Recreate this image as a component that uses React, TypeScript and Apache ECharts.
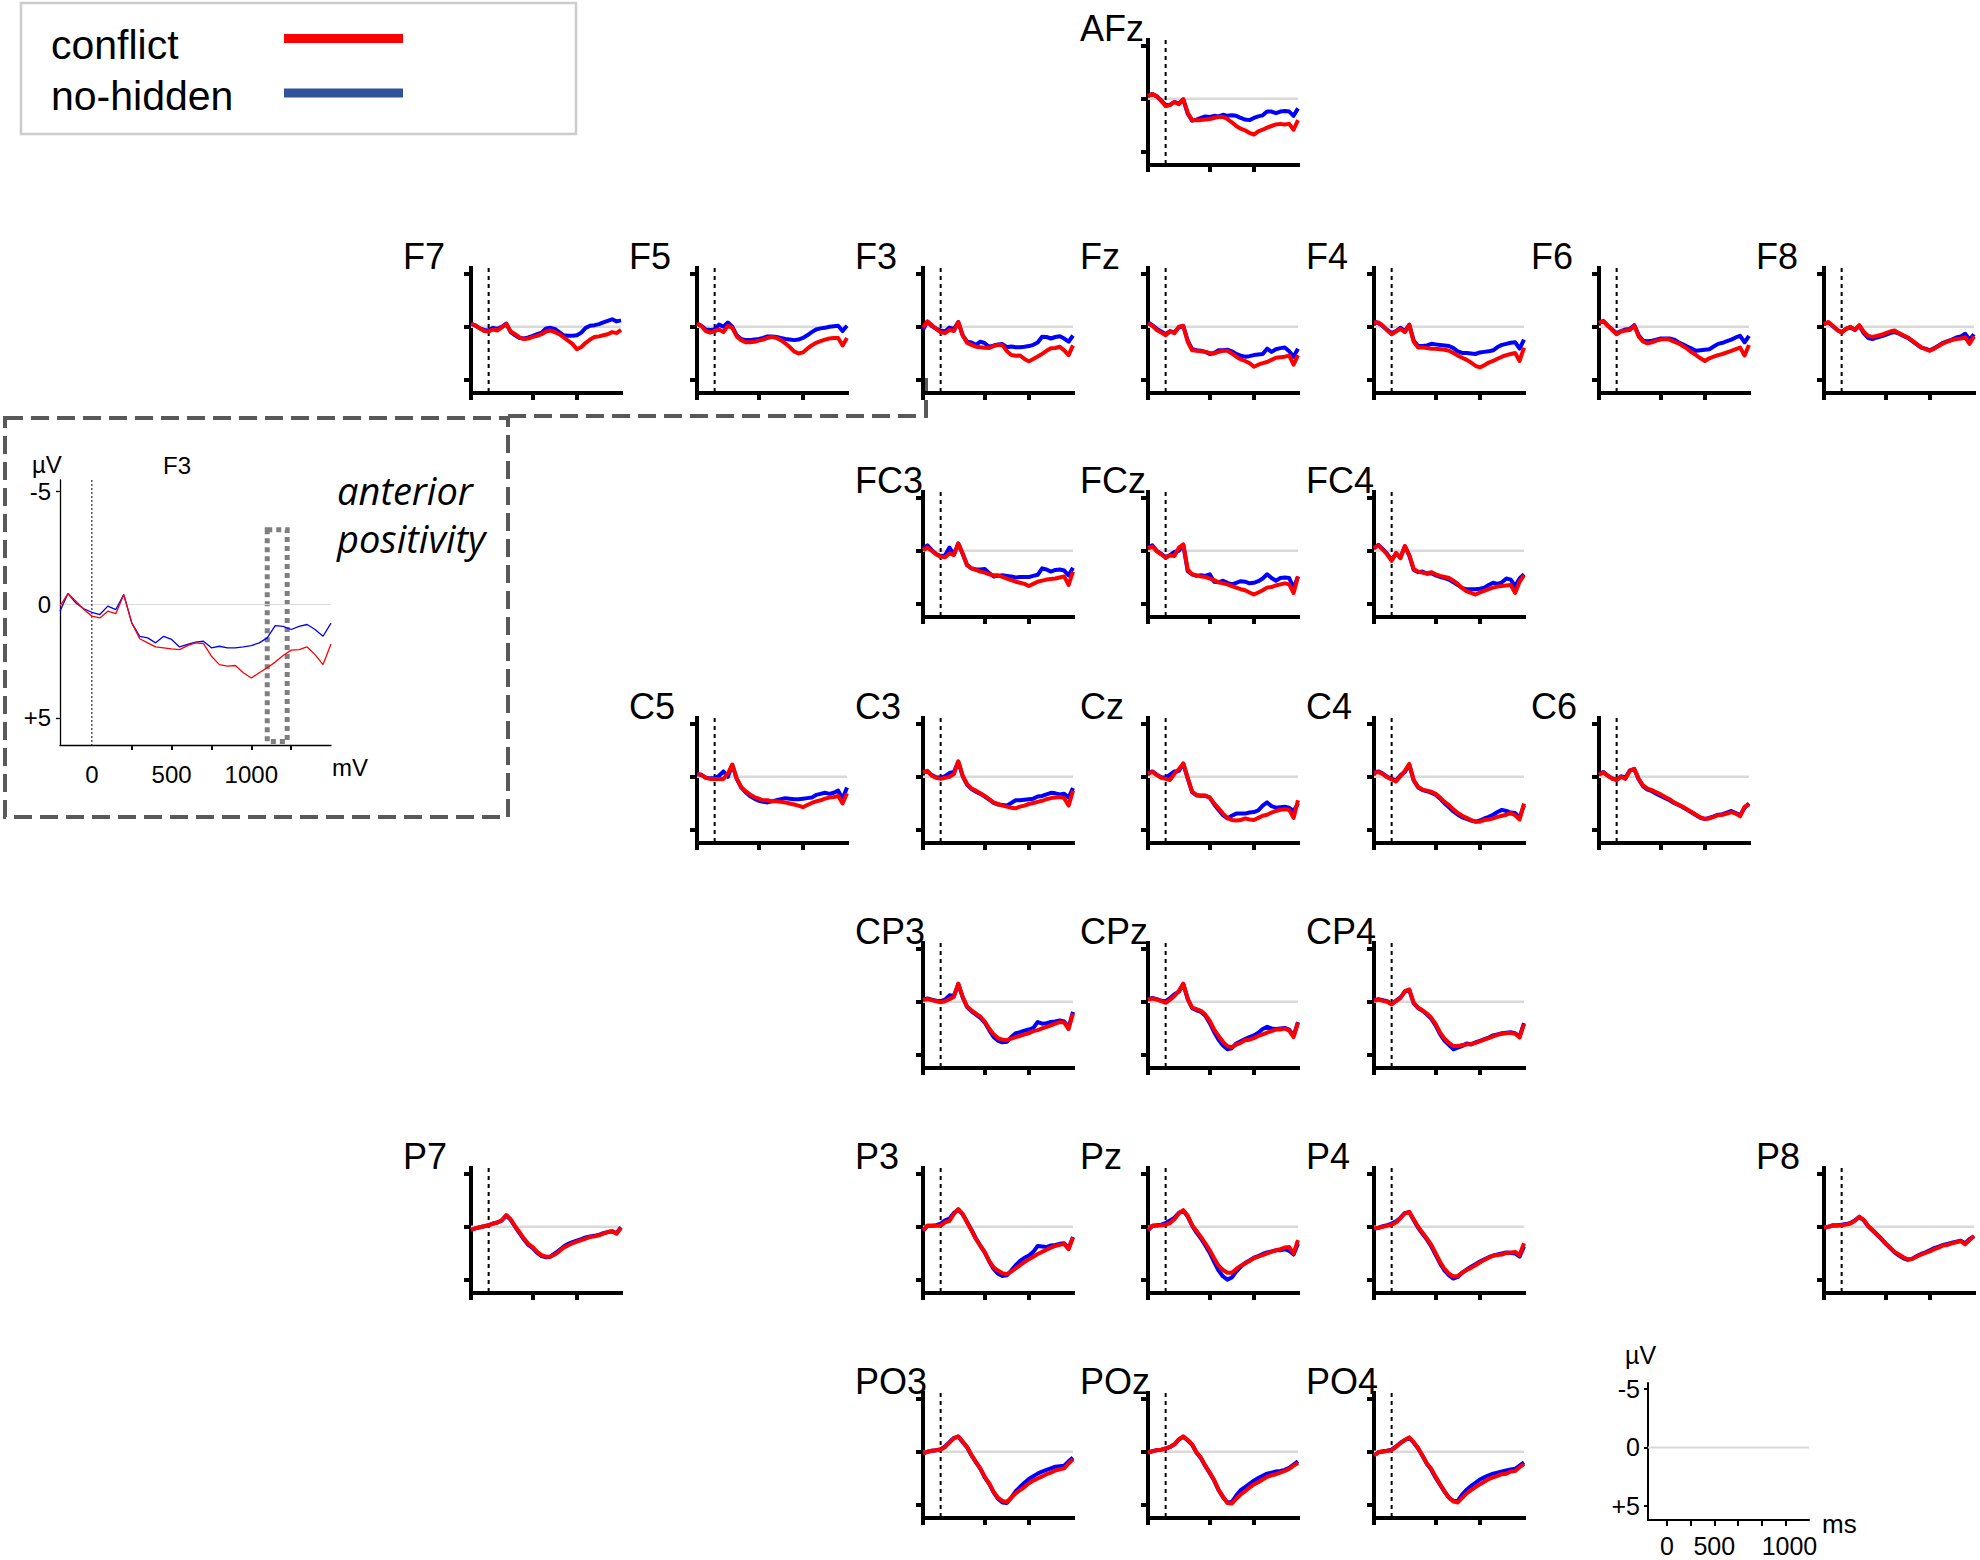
import React, { useEffect, useRef } from 'react';
import * as echarts from 'echarts';

// ---------- time base (ms) ----------
const TIMES = [-200, -150, -100, -50, 0, 50, 100, 150, 200, 250, 300, 350, 400, 450, 500, 550, 600, 650, 700, 750, 800, 850, 900, 950, 1000, 1050, 1100, 1150, 1200, 1250, 1300, 1350, 1400, 1450, 1500];

// ---------- ERP amplitudes (µV, negative up) ----------
const AFz_conflict = [-0.25, -0.45, -0.25, 0.2, 0.7, 0.6, 0.3, 0.5, 0.05, 1.3, 2.0, 2.0, 2.0, 1.95, 1.9, 1.8, 1.7, 1.7, 1.9, 2.2, 2.55, 2.8, 2.95, 3.2, 3.35, 3.05, 2.9, 2.7, 2.55, 2.4, 2.35, 2.4, 2.35, 2.9, 2.0];
const AFz_noHidden = [-0.3, -0.45, -0.2, 0.15, 0.6, 0.55, 0.3, 0.45, 0.05, 1.4, 2.05, 1.95, 1.8, 1.65, 1.7, 1.6, 1.65, 1.5, 1.6, 1.55, 1.6, 1.8, 1.95, 2.0, 1.8, 1.65, 1.55, 1.2, 1.2, 1.35, 1.2, 1.15, 1.2, 1.6, 0.9];

const F7_conflict = [-0.25, -0.15, 0.15, 0.4, 0.45, 0.25, 0.35, 0.05, -0.25, 0.45, 0.7, 1.0, 1.15, 1.1, 0.95, 0.85, 0.7, 0.45, 0.35, 0.5, 0.7, 1.0, 1.3, 1.6, 2.1, 1.9, 1.5, 1.2, 0.95, 0.9, 0.8, 0.7, 0.5, 0.6, 0.3];
const F7_noHidden = [-0.3, -0.1, 0.15, 0.3, 0.35, 0.1, 0.2, 0.0, -0.3, 0.5, 0.8, 1.05, 1.1, 1.0, 0.85, 0.7, 0.55, 0.15, 0.1, 0.2, 0.5, 0.8, 0.85, 0.85, 0.8, 0.55, 0.1, -0.1, -0.15, -0.25, -0.4, -0.55, -0.7, -0.5, -0.6];

const F5_conflict = [-0.3, -0.05, 0.4, 0.55, 0.4, 0.25, 0.5, -0.1, 0.1, 0.9, 1.25, 1.45, 1.45, 1.4, 1.3, 1.2, 1.05, 0.95, 1.05, 1.25, 1.55, 1.9, 2.3, 2.5, 2.4, 2.05, 1.75, 1.5, 1.35, 1.2, 1.1, 1.05, 1.05, 1.75, 1.05];
const F5_noHidden = [-0.3, -0.1, 0.25, 0.3, 0.25, -0.2, 0.0, -0.4, 0.0, 0.8, 1.15, 1.25, 1.25, 1.2, 1.15, 1.05, 0.9, 0.9, 0.95, 1.05, 1.15, 1.2, 1.25, 1.2, 1.05, 0.8, 0.5, 0.25, 0.15, 0.1, 0.0, -0.05, -0.1, 0.4, -0.1];

const F3_conflict = [0.07, -0.49, -0.15, 0.22, 0.51, 0.59, 0.29, 0.4, -0.44, 0.81, 1.51, 1.69, 1.87, 1.91, 1.96, 1.99, 1.81, 1.69, 1.72, 2.28, 2.65, 2.72, 2.69, 3.01, 3.24, 3.01, 2.79, 2.54, 2.25, 2.01, 1.99, 1.87, 2.21, 2.65, 1.74];
const F3_noHidden = [0.29, -0.49, -0.07, 0.19, 0.34, 0.44, 0.07, 0.22, -0.44, 0.81, 1.4, 1.47, 1.69, 1.4, 1.54, 1.87, 1.76, 1.66, 1.62, 1.91, 1.84, 1.91, 1.91, 1.87, 1.81, 1.69, 1.47, 0.93, 0.96, 1.1, 0.96, 0.88, 1.1, 1.4, 0.82];

const Fz_conflict = [-0.3, -0.1, 0.3, 0.55, 0.8, 0.45, 0.6, 0.0, -0.1, 1.4, 2.2, 2.25, 2.3, 2.35, 2.45, 2.5, 2.35, 2.25, 2.25, 2.5, 2.8, 3.05, 3.2, 3.4, 3.75, 3.55, 3.4, 3.3, 3.1, 2.9, 2.85, 2.8, 2.7, 3.55, 2.65];
const Fz_noHidden = [-0.4, -0.15, 0.2, 0.45, 0.7, 0.4, 0.55, 0.05, -0.05, 1.3, 2.1, 2.2, 2.25, 2.35, 2.55, 2.45, 2.2, 2.2, 2.15, 2.3, 2.55, 2.7, 2.8, 2.75, 2.65, 2.6, 2.55, 2.05, 2.35, 2.1, 2.0, 1.95, 2.3, 2.8, 2.05];

const F4_conflict = [-0.4, -0.4, -0.1, 0.35, 0.7, 0.45, 0.2, 0.5, -0.15, 1.4, 1.95, 1.95, 2.0, 2.05, 2.05, 2.1, 2.15, 2.25, 2.45, 2.7, 2.9, 3.1, 3.35, 3.65, 3.8, 3.6, 3.35, 3.2, 3.0, 2.8, 2.65, 2.55, 2.45, 3.2, 1.95];
const F4_noHidden = [-0.5, -0.35, -0.05, 0.3, 0.6, 0.4, 0.1, 0.4, -0.2, 1.3, 1.8, 1.8, 1.75, 1.6, 1.65, 1.7, 1.75, 1.8, 2.0, 2.3, 2.45, 2.45, 2.5, 2.55, 2.4, 2.35, 2.3, 2.2, 1.9, 1.7, 1.6, 1.5, 1.45, 2.05, 1.2];

const F6_conflict = [-0.35, -0.55, -0.1, 0.3, 0.7, 0.45, 0.35, 0.3, -0.1, 0.9, 1.4, 1.55, 1.45, 1.3, 1.2, 1.15, 1.2, 1.4, 1.55, 1.8, 2.05, 2.4, 2.65, 2.95, 3.2, 2.95, 2.8, 2.65, 2.55, 2.4, 2.25, 2.1, 1.95, 2.7, 1.7];
const F6_noHidden = [-0.4, -0.5, -0.1, 0.25, 0.6, 0.4, 0.25, 0.2, -0.15, 0.8, 1.3, 1.35, 1.3, 1.2, 1.1, 1.1, 1.1, 1.2, 1.45, 1.65, 1.85, 2.05, 2.25, 2.2, 2.15, 2.1, 1.85, 1.6, 1.5, 1.35, 1.2, 1.0, 0.85, 1.45, 0.85];

const F8_conflict = [-0.25, -0.45, -0.1, 0.3, 0.55, 0.2, 0.0, 0.3, -0.15, 0.45, 0.85, 0.95, 0.85, 0.75, 0.6, 0.45, 0.35, 0.6, 0.8, 1.0, 1.3, 1.6, 1.9, 2.1, 2.25, 2.05, 1.8, 1.55, 1.4, 1.25, 1.15, 1.1, 1.0, 1.6, 0.9];
const F8_noHidden = [-0.3, -0.4, -0.05, 0.3, 0.5, 0.2, 0.05, 0.3, -0.1, 0.6, 1.05, 1.15, 1.0, 0.9, 0.75, 0.6, 0.5, 0.65, 0.85, 1.05, 1.35, 1.65, 1.95, 2.05, 2.2, 2.0, 1.75, 1.5, 1.35, 1.2, 1.0, 0.9, 0.65, 1.2, 0.7];

const FC3_conflict = [-0.05, -0.3, 0.0, 0.35, 0.55, 0.6, 0.25, 0.4, -0.7, 0.25, 1.35, 1.65, 1.8, 1.95, 2.05, 2.2, 2.3, 2.3, 2.45, 2.6, 2.75, 2.9, 3.0, 3.1, 3.3, 3.1, 2.9, 2.8, 2.7, 2.65, 2.6, 2.5, 2.4, 3.2, 1.95];
const FC3_noHidden = [-0.2, -0.5, -0.05, 0.3, 0.5, 0.45, -0.3, 0.35, -0.65, 0.3, 1.35, 1.65, 1.75, 1.75, 1.7, 2.1, 2.4, 2.35, 2.3, 2.35, 2.4, 2.5, 2.45, 2.45, 2.45, 2.35, 2.25, 1.65, 1.75, 1.95, 1.8, 1.75, 1.85, 2.3, 1.6];

const FCz_conflict = [-0.2, -0.4, 0.05, 0.35, 0.65, 0.45, 0.5, -0.3, -0.6, 1.75, 2.2, 2.3, 2.4, 2.45, 2.6, 2.75, 2.95, 3.05, 3.15, 3.3, 3.45, 3.6, 3.7, 3.9, 4.1, 3.9, 3.7, 3.45, 3.4, 3.25, 3.15, 3.05, 3.15, 3.95, 2.4];
const FCz_noHidden = [-0.3, -0.5, 0.0, 0.3, 0.6, 0.4, 0.1, 0.0, -0.55, 1.9, 2.2, 2.35, 2.3, 2.35, 2.2, 2.9, 2.95, 2.8, 3.0, 3.15, 3.0, 2.85, 2.9, 3.05, 3.0, 2.85, 2.6, 2.2, 2.55, 2.8, 2.55, 2.5, 2.55, 3.5, 2.4];

const FC4_conflict = [-0.25, -0.5, -0.1, 0.35, 0.95, 0.2, 0.7, -0.45, 0.4, 1.7, 1.95, 2.05, 2.1, 2.0, 2.2, 2.35, 2.45, 2.55, 2.8, 3.1, 3.5, 3.8, 3.95, 4.1, 3.9, 3.75, 3.6, 3.45, 3.35, 3.3, 3.25, 3.2, 3.95, 2.9, 2.3];
const FC4_noHidden = [-0.3, -0.55, -0.15, 0.3, 0.85, 0.25, 0.6, -0.4, 0.45, 1.8, 2.0, 1.95, 2.15, 2.1, 2.3, 2.45, 2.55, 2.7, 2.95, 3.2, 3.5, 3.6, 3.6, 3.6, 3.55, 3.45, 3.2, 3.0, 3.1, 2.95, 2.6, 2.7, 3.3, 2.6, 2.2];

const C5_conflict = [-0.2, -0.2, 0.1, 0.2, 0.2, 0.2, 0.2, -0.3, -1.15, 0.15, 0.95, 1.35, 1.65, 1.9, 2.05, 2.2, 2.2, 2.3, 2.3, 2.35, 2.4, 2.5, 2.6, 2.7, 2.85, 2.65, 2.45, 2.3, 2.2, 2.05, 1.95, 1.9, 1.8, 2.5, 1.55];
const C5_noHidden = [-0.3, -0.15, 0.1, 0.15, 0.15, -0.1, -0.5, 0.0, -1.1, 0.2, 1.0, 1.45, 1.8, 2.05, 2.25, 2.35, 2.4, 2.3, 2.2, 2.1, 2.0, 2.05, 2.1, 2.1, 2.05, 2.0, 1.95, 1.7, 1.6, 1.5, 1.6, 1.5, 1.3, 2.05, 1.0];

const C3_conflict = [-0.4, -0.55, -0.1, 0.1, 0.2, 0.1, 0.0, -0.25, -1.45, -0.1, 0.7, 1.1, 1.3, 1.55, 1.8, 2.1, 2.4, 2.55, 2.7, 2.8, 2.9, 2.95, 2.8, 2.7, 2.55, 2.45, 2.35, 2.25, 2.1, 2.0, 1.95, 1.9, 2.0, 2.7, 1.3];
const C3_noHidden = [-0.45, -0.5, -0.15, 0.05, 0.1, -0.05, -0.35, -0.45, -1.4, -0.05, 0.75, 1.15, 1.4, 1.6, 1.85, 2.15, 2.45, 2.6, 2.65, 2.7, 2.45, 2.2, 2.2, 2.15, 2.1, 2.05, 1.85, 1.8, 1.65, 1.5, 1.55, 1.65, 1.6, 1.95, 1.05];

const Cz_conflict = [-0.3, -0.45, -0.15, 0.1, 0.2, 0.3, -0.3, -0.7, -1.25, 0.1, 1.4, 1.7, 1.8, 1.8, 1.95, 2.5, 2.95, 3.45, 3.85, 4.05, 4.1, 4.05, 3.9, 4.0, 4.05, 3.85, 3.65, 3.55, 3.35, 3.2, 3.1, 3.05, 3.1, 3.85, 2.2];
const Cz_noHidden = [-0.35, -0.5, -0.2, 0.05, 0.1, -0.2, -0.5, -0.55, -1.2, 0.15, 1.45, 1.75, 1.75, 1.75, 1.95, 2.6, 3.1, 3.6, 3.9, 3.65, 3.45, 3.45, 3.45, 3.35, 3.3, 3.15, 2.7, 2.4, 2.75, 2.9, 2.85, 2.8, 2.9, 3.2, 2.5];

const C4_conflict = [-0.35, -0.45, -0.25, 0.05, 0.25, 0.45, -0.05, -0.55, -1.2, 0.3, 0.95, 1.2, 1.3, 1.4, 1.6, 1.95, 2.35, 2.65, 3.05, 3.4, 3.65, 3.85, 4.05, 4.2, 4.2, 4.05, 4.0, 3.9, 3.75, 3.65, 3.55, 3.4, 3.6, 4.0, 2.5];
const C4_noHidden = [-0.4, -0.5, -0.3, 0.0, 0.2, 0.35, -0.15, -0.45, -1.1, 0.35, 1.0, 1.25, 1.35, 1.5, 1.7, 2.05, 2.5, 2.85, 3.25, 3.55, 3.8, 3.95, 4.1, 4.2, 4.1, 3.9, 3.75, 3.55, 3.3, 3.1, 3.2, 3.35, 3.4, 3.8, 2.7];

const C6_conflict = [-0.2, -0.4, -0.1, 0.2, 0.3, 0.0, 0.2, -0.55, -0.75, 0.2, 0.8, 1.1, 1.25, 1.45, 1.65, 1.9, 2.1, 2.4, 2.6, 2.8, 3.05, 3.3, 3.55, 3.8, 3.95, 3.9, 3.75, 3.6, 3.55, 3.45, 3.3, 3.45, 3.7, 2.8, 2.6];
const C6_noHidden = [-0.25, -0.45, -0.1, 0.15, 0.3, -0.05, 0.1, -0.6, -0.7, 0.25, 0.9, 1.2, 1.35, 1.6, 1.8, 2.0, 2.2, 2.45, 2.65, 2.85, 3.1, 3.35, 3.6, 3.85, 3.95, 3.85, 3.7, 3.55, 3.5, 3.35, 3.2, 3.4, 3.6, 2.9, 2.5];

const CP3_conflict = [-0.15, -0.25, -0.15, -0.05, 0.05, -0.05, -0.25, -0.45, -1.7, -0.45, 0.45, 0.8, 1.1, 1.4, 1.85, 2.5, 3.05, 3.4, 3.55, 3.6, 3.45, 3.3, 3.2, 3.05, 2.95, 2.75, 2.65, 2.5, 2.35, 2.2, 2.05, 1.9, 1.95, 2.55, 1.1];
const CP3_noHidden = [-0.2, -0.3, -0.2, -0.1, -0.05, -0.2, -0.6, -0.55, -1.65, -0.4, 0.5, 0.9, 1.2, 1.5, 1.95, 2.65, 3.3, 3.65, 3.8, 3.75, 3.3, 2.95, 2.85, 2.7, 2.6, 2.45, 1.9, 2.05, 2.0, 1.9, 1.85, 1.75, 1.85, 2.4, 0.95];

const CPz_conflict = [-0.2, -0.3, -0.2, -0.05, 0.1, -0.2, -0.55, -1.0, -1.7, -0.3, 0.55, 0.7, 0.85, 1.2, 1.8, 2.6, 3.2, 3.75, 4.15, 4.25, 4.0, 3.85, 3.6, 3.55, 3.4, 3.2, 3.05, 2.9, 2.75, 2.6, 2.6, 2.5, 2.7, 3.3, 1.95];
const CPz_noHidden = [-0.25, -0.35, -0.25, -0.1, -0.05, -0.35, -0.7, -0.95, -1.65, -0.25, 0.6, 0.8, 0.95, 1.3, 2.0, 2.85, 3.55, 4.1, 4.45, 4.35, 3.9, 3.7, 3.5, 3.3, 3.15, 2.9, 2.55, 2.35, 2.5, 2.55, 2.5, 2.45, 2.6, 3.2, 1.9];

const CP4_conflict = [-0.1, -0.2, -0.1, 0.0, 0.25, -0.05, -0.35, -1.0, -1.15, 0.1, 0.55, 0.8, 1.1, 1.5, 2.1, 2.9, 3.45, 3.85, 4.15, 4.15, 4.05, 4.0, 3.95, 3.85, 3.7, 3.55, 3.4, 3.25, 3.1, 3.0, 2.95, 2.9, 3.0, 3.35, 2.1];
const CP4_noHidden = [-0.15, -0.25, -0.15, -0.05, 0.2, -0.1, -0.4, -0.95, -1.1, 0.15, 0.6, 0.85, 1.2, 1.6, 2.25, 3.05, 3.65, 4.05, 4.45, 4.3, 4.15, 3.9, 4.0, 3.8, 3.65, 3.5, 3.35, 3.15, 3.05, 2.95, 2.9, 2.85, 2.95, 3.25, 2.0];

const P7_conflict = [0.3, 0.15, 0.05, -0.05, -0.15, -0.3, -0.4, -0.6, -1.1, -0.7, -0.05, 0.5, 1.1, 1.6, 1.9, 2.35, 2.65, 2.8, 2.8, 2.6, 2.3, 1.95, 1.75, 1.55, 1.4, 1.25, 1.1, 0.95, 0.9, 0.8, 0.65, 0.5, 0.4, 0.65, 0.1];
const P7_noHidden = [0.3, 0.15, 0.05, -0.05, -0.15, -0.3, -0.4, -0.6, -1.05, -0.65, 0.0, 0.6, 1.2, 1.7, 2.0, 2.45, 2.75, 2.85, 2.8, 2.5, 2.2, 1.85, 1.6, 1.45, 1.3, 1.15, 1.0, 0.9, 0.85, 0.75, 0.6, 0.5, 0.45, 0.6, 0.05];

const P3_conflict = [0.35, -0.1, -0.1, -0.1, -0.1, -0.4, -0.55, -1.2, -1.65, -1.2, -0.4, 0.35, 1.15, 1.8, 2.4, 3.2, 3.8, 4.1, 4.35, 4.45, 4.2, 3.9, 3.6, 3.3, 3.05, 2.8, 2.55, 2.35, 2.15, 1.95, 1.8, 1.7, 1.6, 2.1, 1.0];
const P3_noHidden = [0.4, -0.1, -0.1, -0.15, -0.3, -0.6, -0.75, -1.3, -1.6, -1.15, -0.45, 0.3, 1.1, 1.75, 2.4, 3.25, 3.95, 4.4, 4.6, 4.55, 4.1, 3.6, 3.2, 2.9, 2.7, 2.35, 1.8, 1.85, 1.9, 1.75, 1.7, 1.6, 1.55, 2.0, 0.95];

const Pz_conflict = [0.3, -0.1, -0.1, -0.15, -0.2, -0.35, -0.7, -1.25, -1.55, -1.05, -0.15, 0.4, 0.95, 1.55, 2.2, 2.95, 3.65, 4.05, 4.3, 4.3, 3.95, 3.65, 3.45, 3.2, 2.95, 2.8, 2.65, 2.5, 2.35, 2.2, 2.1, 1.95, 1.9, 2.5, 1.25];
const Pz_noHidden = [0.35, -0.1, -0.15, -0.2, -0.35, -0.6, -0.85, -1.3, -1.5, -0.95, -0.1, 0.55, 1.1, 1.75, 2.45, 3.3, 4.1, 4.65, 4.95, 4.75, 4.2, 3.75, 3.4, 3.15, 2.9, 2.75, 2.55, 2.4, 2.3, 2.2, 2.2, 2.1, 2.25, 2.6, 1.6];

const P4_conflict = [0.15, 0.1, 0.0, -0.1, -0.2, -0.4, -0.8, -1.25, -1.4, -0.7, 0.0, 0.55, 1.1, 1.7, 2.5, 3.3, 3.95, 4.4, 4.65, 4.6, 4.3, 4.05, 3.85, 3.6, 3.35, 3.1, 2.9, 2.7, 2.65, 2.6, 2.45, 2.4, 2.35, 2.65, 1.55];
const P4_noHidden = [0.2, 0.1, -0.05, -0.15, -0.3, -0.5, -0.85, -1.3, -1.35, -0.6, 0.1, 0.65, 1.2, 1.85, 2.65, 3.45, 4.1, 4.55, 4.85, 4.7, 4.3, 4.0, 3.75, 3.5, 3.25, 3.05, 2.85, 2.7, 2.6, 2.5, 2.4, 2.45, 2.5, 2.8, 1.85];

const P8_conflict = [0.1, 0.0, -0.1, -0.1, -0.15, -0.2, -0.3, -0.55, -0.95, -0.65, -0.1, 0.3, 0.7, 1.1, 1.55, 1.95, 2.35, 2.6, 2.85, 3.05, 3.0, 2.8, 2.6, 2.45, 2.3, 2.1, 1.95, 1.75, 1.7, 1.55, 1.45, 1.35, 1.65, 1.25, 0.85];
const P8_noHidden = [0.1, 0.0, -0.15, -0.15, -0.2, -0.25, -0.35, -0.6, -0.9, -0.6, -0.05, 0.35, 0.75, 1.15, 1.6, 2.0, 2.4, 2.7, 2.95, 3.1, 3.0, 2.75, 2.55, 2.4, 2.2, 2.0, 1.85, 1.7, 1.6, 1.5, 1.4, 1.3, 1.55, 1.15, 0.9];

const PO3_conflict = [0.15, 0.0, -0.1, -0.15, -0.2, -0.45, -0.85, -1.25, -1.45, -0.95, -0.45, 0.3, 0.95, 1.55, 2.35, 2.95, 3.75, 4.3, 4.6, 4.7, 4.3, 3.9, 3.6, 3.3, 2.95, 2.7, 2.5, 2.3, 2.1, 1.95, 1.75, 1.65, 1.55, 1.1, 0.7];
const PO3_noHidden = [0.15, 0.0, -0.1, -0.15, -0.25, -0.5, -0.9, -1.3, -1.4, -0.9, -0.4, 0.35, 1.0, 1.6, 2.4, 3.0, 3.8, 4.4, 4.75, 4.8, 4.3, 3.7, 3.3, 2.9, 2.55, 2.3, 2.05, 1.85, 1.7, 1.55, 1.4, 1.35, 1.3, 0.9, 0.55];

const POz_conflict = [0.1, -0.05, -0.15, -0.2, -0.3, -0.45, -0.7, -1.15, -1.45, -1.1, -0.7, 0.05, 0.55, 1.3, 1.95, 2.65, 3.55, 4.2, 4.8, 4.85, 4.4, 4.0, 3.7, 3.35, 3.05, 2.85, 2.6, 2.35, 2.2, 2.1, 1.95, 1.8, 1.6, 1.3, 1.05];
const POz_noHidden = [0.1, -0.05, -0.15, -0.2, -0.3, -0.45, -0.7, -1.15, -1.4, -1.05, -0.65, 0.1, 0.6, 1.35, 2.0, 2.7, 3.6, 4.25, 4.75, 4.7, 4.1, 3.6, 3.3, 3.0, 2.7, 2.45, 2.25, 2.05, 1.95, 1.85, 1.8, 1.7, 1.5, 1.2, 0.9];

const PO4_conflict = [0.35, 0.05, 0.0, -0.1, -0.15, -0.45, -0.8, -1.1, -1.35, -0.9, -0.35, 0.35, 1.1, 1.6, 2.35, 3.05, 3.7, 4.3, 4.65, 4.75, 4.3, 3.9, 3.6, 3.3, 3.05, 2.8, 2.55, 2.4, 2.25, 2.1, 2.05, 1.85, 1.8, 1.45, 1.15];
const PO4_noHidden = [0.35, 0.05, -0.05, -0.1, -0.2, -0.5, -0.85, -1.1, -1.3, -0.85, -0.3, 0.4, 1.15, 1.7, 2.45, 3.1, 3.75, 4.3, 4.6, 4.6, 4.0, 3.55, 3.2, 2.9, 2.6, 2.4, 2.2, 2.05, 1.95, 1.85, 1.75, 1.65, 1.6, 1.3, 1.0];

// ---------- ticks / labels ----------
const SMALL_X_TICKS = [-200, 500, 1000];
const SMALL_Y_TICKS = [-5, 0, 5];
const INSET_X_TICKS = [250, 500, 750, 1000, 1250];
const INSET_X_LABELS = [0, 500, 1000];
const INSET_Y_TICKS = [-5, 5];
const SCALE_X_TICKS = [0, 250, 500, 750, 1000, 1250];
const SCALE_X_LABELS = [0, 500, 1000];
const Y_LABELS = [-5, 0, 5];
const HIGHLIGHT_WINDOW = [1100, 1225];
const HIGHLIGHT_AMPL = [-3.3, 6.05];
const LEGEND_NAMES = ['conflict', 'no-hidden'];

// ---------- layout (positions only) ----------
const COLS = [471, 697, 923, 1148, 1374, 1599, 1824];
const ROW_BOTTOMS = [165, 393, 617, 843, 1068, 1293, 1518];

const PANELS = [
  { name: 'AFz', col: 3, row: 0, conflict: AFz_conflict, noHidden: AFz_noHidden },
  { name: 'F7', col: 0, row: 1, conflict: F7_conflict, noHidden: F7_noHidden },
  { name: 'F5', col: 1, row: 1, conflict: F5_conflict, noHidden: F5_noHidden },
  { name: 'F3', col: 2, row: 1, conflict: F3_conflict, noHidden: F3_noHidden },
  { name: 'Fz', col: 3, row: 1, conflict: Fz_conflict, noHidden: Fz_noHidden },
  { name: 'F4', col: 4, row: 1, conflict: F4_conflict, noHidden: F4_noHidden },
  { name: 'F6', col: 5, row: 1, conflict: F6_conflict, noHidden: F6_noHidden },
  { name: 'F8', col: 6, row: 1, conflict: F8_conflict, noHidden: F8_noHidden },
  { name: 'FC3', col: 2, row: 2, conflict: FC3_conflict, noHidden: FC3_noHidden },
  { name: 'FCz', col: 3, row: 2, conflict: FCz_conflict, noHidden: FCz_noHidden },
  { name: 'FC4', col: 4, row: 2, conflict: FC4_conflict, noHidden: FC4_noHidden },
  { name: 'C5', col: 1, row: 3, conflict: C5_conflict, noHidden: C5_noHidden },
  { name: 'C3', col: 2, row: 3, conflict: C3_conflict, noHidden: C3_noHidden },
  { name: 'Cz', col: 3, row: 3, conflict: Cz_conflict, noHidden: Cz_noHidden },
  { name: 'C4', col: 4, row: 3, conflict: C4_conflict, noHidden: C4_noHidden },
  { name: 'C6', col: 5, row: 3, conflict: C6_conflict, noHidden: C6_noHidden },
  { name: 'CP3', col: 2, row: 4, conflict: CP3_conflict, noHidden: CP3_noHidden },
  { name: 'CPz', col: 3, row: 4, conflict: CPz_conflict, noHidden: CPz_noHidden },
  { name: 'CP4', col: 4, row: 4, conflict: CP4_conflict, noHidden: CP4_noHidden },
  { name: 'P7', col: 0, row: 5, conflict: P7_conflict, noHidden: P7_noHidden },
  { name: 'P3', col: 2, row: 5, conflict: P3_conflict, noHidden: P3_noHidden },
  { name: 'Pz', col: 3, row: 5, conflict: Pz_conflict, noHidden: Pz_noHidden },
  { name: 'P4', col: 4, row: 5, conflict: P4_conflict, noHidden: P4_noHidden },
  { name: 'P8', col: 6, row: 5, conflict: P8_conflict, noHidden: P8_noHidden },
  { name: 'PO3', col: 2, row: 6, conflict: PO3_conflict, noHidden: PO3_noHidden },
  { name: 'POz', col: 3, row: 6, conflict: POz_conflict, noHidden: POz_noHidden },
  { name: 'PO4', col: 4, row: 6, conflict: PO4_conflict, noHidden: PO4_noHidden },
];

const W = 1980;
const H = 1560;
const PANEL_W = 150;
const PANEL_H = 125;
const T_MIN = -200;
const T_MAX = 1500;
const Y_MIN = -5.5;
const Y_MAX = 6.2;
const RED = '#ff0000';
const BLUE = '#0000ff';
const LEGEND_BLUE = '#2f5299';
const ZERO_GRAY = '#d9d9d9';
const FONT = '"Liberation Sans", Arial, Helvetica, sans-serif';
const ITALIC_FONT = '"Open Sans", "DejaVu Sans", sans-serif';

const toPairs = (vals: number[]) => TIMES.map((t, i) => [t, vals[i]]);
const signed = (v: number) => (v > 0 ? '+' + v : String(v));
const plain = (v: number) => String(v);

export default function App() {
  const ref = useRef<HTMLDivElement>(null);

  useEffect(() => {
    if (!ref.current) return;
    const chart = echarts.init(ref.current, null, { renderer: 'svg', width: W, height: H });

    const grid: any[] = [];
    const xAxis: any[] = [];
    const yAxis: any[] = [];
    const series: any[] = [];
    const graphic: any[] = [];

    const text = (x: number, y: number, str: string, size: number, extra: any = {}) => ({
      type: 'text',
      x,
      y,
      silent: true,
      style: {
        text: str,
        fill: '#000',
        font: `${extra.italic ? 'italic ' : ''}${size}px ${extra.family || FONT}`,
        textAlign: extra.align || 'left',
        align: extra.align || 'left',
        textVerticalAlign: 'middle',
        verticalAlign: 'middle',
      },
    });

    // ---- small electrode panels ----
    PANELS.forEach((p) => {
      const g = grid.length;
      const left = COLS[p.col];
      const top = ROW_BOTTOMS[p.row] - PANEL_H;
      grid.push({ left, top, width: PANEL_W, height: PANEL_H });
      const axLine = { show: true, onZero: false, lineStyle: { color: '#000', width: 4, cap: 'square' } };
      xAxis.push({
        gridIndex: g, type: 'value', min: T_MIN, max: T_MAX,
        axisLine: axLine,
        axisTick: { show: true, customValues: SMALL_X_TICKS, length: 7, lineStyle: { color: '#000', width: 4 } },
        axisLabel: { show: false }, splitLine: { show: false },
      });
      yAxis.push({
        gridIndex: g, type: 'value', inverse: true, min: Y_MIN, max: Y_MAX,
        axisLine: axLine,
        axisTick: { show: true, customValues: SMALL_Y_TICKS, length: 7, lineStyle: { color: '#000', width: 4 } },
        axisLabel: { show: false }, splitLine: { show: false },
      });
      const common = { type: 'line', xAxisIndex: g, yAxisIndex: g, symbol: 'none', silent: true, animation: false };
      series.push({ ...common, z: 1, data: [[T_MIN, 0], [T_MAX, 0]], lineStyle: { color: ZERO_GRAY, width: 2.5 } });
      series.push({ ...common, z: 2, data: [[0, Y_MIN], [0, Y_MAX]], lineStyle: { color: '#000', width: 2, type: [4, 4] } });
      series.push({ ...common, z: 3, name: LEGEND_NAMES[1], data: toPairs(p.noHidden), lineStyle: { color: BLUE, width: 4, join: 'round' } });
      series.push({ ...common, z: 4, name: LEGEND_NAMES[0], data: toPairs(p.conflict), lineStyle: { color: RED, width: 4, join: 'round' } });
      graphic.push(text(left - 68, top - 12, p.name, 36));
    });

    // ---- inset: enlarged F3 ----
    {
      const g = grid.length;
      grid.push({ left: 60, top: 480, width: 271, height: 265 });
      const ls = { color: '#000', width: 1.3 };
      xAxis.push({
        gridIndex: g, type: 'value', min: T_MIN, max: T_MAX,
        axisLine: { show: true, onZero: false, lineStyle: ls },
        axisTick: { show: true, customValues: INSET_X_TICKS, length: 5, lineStyle: { color: '#000', width: 2 } },
        axisLabel: { show: true, customValues: INSET_X_LABELS, fontSize: 24, fontFamily: FONT, color: '#000', margin: 17, hideOverlap: false, showMinLabel: true, showMaxLabel: true, formatter: plain },
        splitLine: { show: false },
      });
      yAxis.push({
        gridIndex: g, type: 'value', inverse: true, min: Y_MIN, max: Y_MAX,
        axisLine: { show: true, onZero: false, lineStyle: ls },
        axisTick: { show: true, customValues: INSET_Y_TICKS, length: 4, lineStyle: ls },
        axisLabel: { show: true, customValues: Y_LABELS, fontSize: 24, fontFamily: FONT, color: '#000', margin: 9, hideOverlap: false, showMinLabel: true, showMaxLabel: true, formatter: signed },
        splitLine: { show: false },
      });
      const common = { type: 'line', xAxisIndex: g, yAxisIndex: g, symbol: 'none', silent: true, animation: false };
      series.push({ ...common, z: 1, data: [[T_MIN, 0], [T_MAX, 0]], lineStyle: { color: ZERO_GRAY, width: 1 } });
      series.push({ ...common, z: 2, data: [[0, Y_MIN], [0, Y_MAX]], lineStyle: { color: '#000', width: 1, type: [2, 2] } });
      series.push({ ...common, z: 3, data: toPairs(F3_noHidden), lineStyle: { color: BLUE, width: 1.3 } });
      series.push({
        ...common, z: 4, data: toPairs(F3_conflict), lineStyle: { color: RED, width: 1.3 },
        markArea: {
          silent: true,
          itemStyle: { color: 'rgba(0,0,0,0)', borderColor: '#7f7f7f', borderWidth: 5, borderType: [5, 4] },
          data: [[{ xAxis: HIGHLIGHT_WINDOW[0], yAxis: HIGHLIGHT_AMPL[0] }, { xAxis: HIGHLIGHT_WINDOW[1], yAxis: HIGHLIGHT_AMPL[1] }]],
        },
      });
      graphic.push(text(32, 464, 'µV', 24));
      graphic.push(text(163, 465, 'F3', 24));
      graphic.push(text(332, 767, 'mV', 24));
      graphic.push(text(337, 490, 'anterior', 38, { italic: true, family: ITALIC_FONT }));
      graphic.push(text(337, 538, 'positivity', 38, { italic: true, family: ITALIC_FONT }));
    }

    // ---- scale reference panel ----
    {
      const g = grid.length;
      grid.push({ left: 1648, top: 1383, width: 161, height: 137 });
      const ls = { color: '#000', width: 2 };
      xAxis.push({
        gridIndex: g, type: 'value', min: T_MIN, max: T_MAX,
        axisLine: { show: true, onZero: false, lineStyle: ls },
        axisTick: { show: true, customValues: SCALE_X_TICKS, length: 6, lineStyle: ls },
        axisLabel: {
          show: true, customValues: SCALE_X_LABELS, fontSize: 25, fontFamily: FONT, color: '#000', margin: 13,
          hideOverlap: false, showMinLabel: true, showMaxLabel: true, alignMaxLabel: 'left', formatter: plain,
        },
        splitLine: { show: false },
      });
      yAxis.push({
        gridIndex: g, type: 'value', inverse: true, min: Y_MIN, max: Y_MAX,
        axisLine: { show: true, onZero: false, lineStyle: ls },
        axisTick: { show: true, customValues: Y_LABELS, length: 4, lineStyle: ls },
        axisLabel: { show: true, customValues: Y_LABELS, fontSize: 25, fontFamily: FONT, color: '#000', margin: 8, hideOverlap: false, showMinLabel: true, showMaxLabel: true, formatter: signed },
        splitLine: { show: false },
      });
      series.push({ type: 'line', xAxisIndex: g, yAxisIndex: g, symbol: 'none', silent: true, z: 1, data: [[T_MIN, 0], [T_MAX, 0]], lineStyle: { color: ZERO_GRAY, width: 2 } });
      graphic.push(text(1625, 1355, 'µV', 25));
      graphic.push(text(1822, 1524, 'ms', 26));
    }

    // ---- inset frame and connector ----
    graphic.push({
      type: 'rect', silent: true, z: -1,
      shape: { x: 5, y: 418, width: 503, height: 399 },
      style: { fill: 'none', stroke: '#595959', lineWidth: 4, lineDash: [18, 8] },
    });
    graphic.push({
      type: 'polyline', silent: true, z: -1,
      shape: { points: [[508, 416], [926, 416], [926, 378]] },
      style: { fill: null, stroke: '#595959', lineWidth: 4, lineDash: [18, 8] },
    });

    // ---- legend ----
    graphic.push({
      type: 'rect', silent: true,
      shape: { x: 21, y: 3, width: 555, height: 131 },
      style: { fill: '#fff', stroke: '#cccccc', lineWidth: 2.5 },
    });
    graphic.push(text(51, 45, LEGEND_NAMES[0], 41));
    graphic.push(text(51, 96, LEGEND_NAMES[1], 41));
    graphic.push({ type: 'line', silent: true, shape: { x1: 284, y1: 38.5, x2: 403, y2: 38.5 }, style: { stroke: RED, lineWidth: 9 } });
    graphic.push({ type: 'line', silent: true, shape: { x1: 284, y1: 93, x2: 403, y2: 93 }, style: { stroke: LEGEND_BLUE, lineWidth: 9 } });

    chart.setOption({ animation: false, backgroundColor: '#fff', grid, xAxis, yAxis, series, graphic });
    return () => chart.dispose();
  }, []);

  return <div ref={ref} style={{ position: 'fixed', left: 0, top: 0, width: W, height: H, background: '#fff' }} />;
}
